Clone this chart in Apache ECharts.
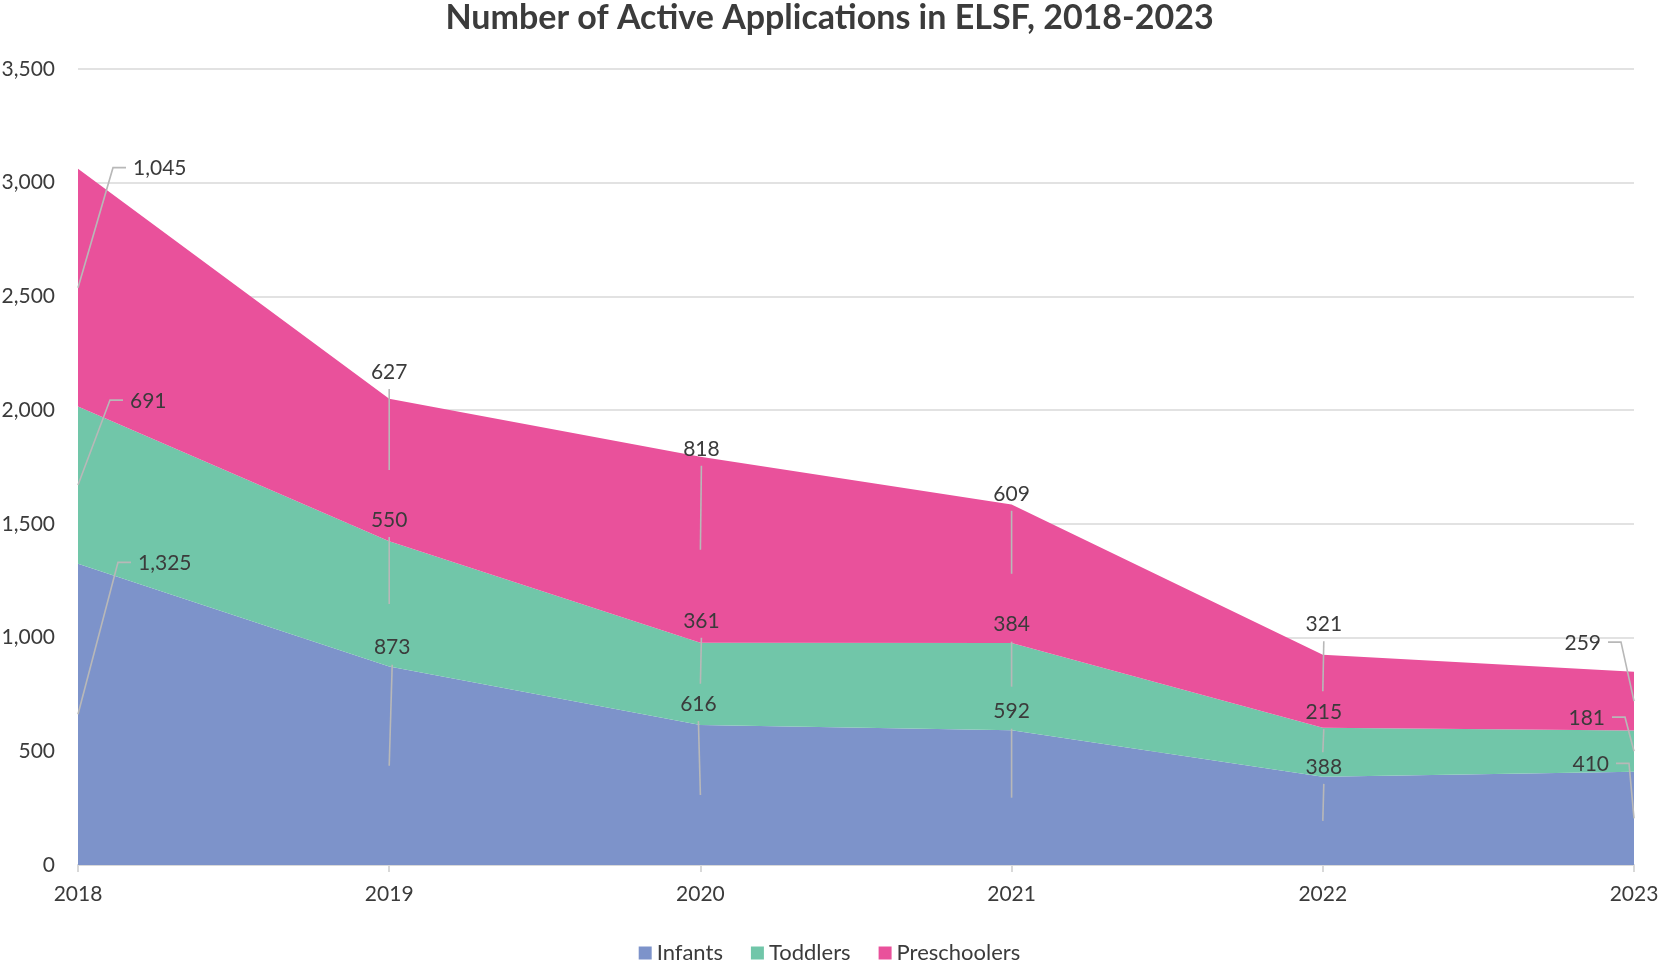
<!DOCTYPE html>
<html>
<head>
<meta charset="utf-8">
<script src="https://cdn.jsdelivr.net/npm/echarts@6/dist/echarts.min.js"></script>
<style>
  html, body { margin: 0; padding: 0; background: #fff; }
  #chart { width: 1659px; height: 962px; }
</style>
</head>
<body>
<div id="chart"></div>
<script>
const FONT = 'Lato, "Open Sans", sans-serif';
const TEXT = '#3B3B3B';
const LEADER = '#B8B8B8';

const years = ['2018', '2019', '2020', '2021', '2022', '2023'];
const infants = [1325, 873, 616, 592, 388, 410];
const toddlers = [691, 550, 361, 384, 215, 181];
const preschoolers = [1045, 627, 818, 609, 321, 259];

const seriesNames = ['Infants', 'Toddlers', 'Preschoolers'];
const seriesValues = [infants, toddlers, preschoolers];
const colors = ['#7D93CA', '#71C6A9', '#E9519B'];

// Excel dragged its labels away from the band middle; [kind, x, y] in px from that point.
// left/right: x is the text's left/right edge, up: x is the text centre; y is the text centre.
const labelPlace = [
  [['left', 60, -151], ['up', 3, -118], ['up', -2, -91], ['up', 0, -86], ['up', 1, -54], ['right', -25, -54]],
  [['left', 52, -84], ['up', 0, -84], ['up', 1, -63], ['up', 0, -62], ['up', 1, -40], ['right', -29, -33]],
  [['left', 55, -119], ['up', 0, -98], ['up', 1, -101], ['up', 0, -80], ['up', 1, -67], ['right', -33, -58]],
];

const fmt = (v) => v.toLocaleString('en-US');

const chart = echarts.init(document.getElementById('chart'), null, { renderer: 'canvas' });

const areaSeries = seriesNames.map((name, i) => ({
  name,
  type: 'line',
  stack: 'total',
  data: seriesValues[i],
  symbol: 'none',
  lineStyle: { width: 0 },
  areaStyle: { color: colors[i], opacity: 1 },
  itemStyle: { color: colors[i] },
  z: 2,
}));

// labels with leader lines, anchored in the middle of each stacked band
const labelSeries = seriesNames.map((name, i) => ({
  name: name + ' labels',
  type: 'custom',
  silent: true,
  z: 5,
  data: seriesValues[i].map((v, j) => {
    let base = 0;
    for (let k = 0; k < i; k++) base += seriesValues[k][j];
    return [j, base + v / 2, v];
  }),
  renderItem: (params, api) => {
    const j = params.dataIndex;
    const [ax, ay] = api.coord([api.value(0), api.value(1)]);
    const [kind, ox, oy] = labelPlace[i][j];
    const tx = ax + ox;
    const ty = ay + oy;
    let points;
    if (kind === 'left') {
      points = [[ax, ay], [tx - 20, ty - 1], [tx - 7, ty - 1]];
    } else if (kind === 'right') {
      points = [[ax, ay], [tx + 20, ty - 1], [tx + 7, ty - 1]];
    } else {
      points = [[ax, ay], [tx, ty + 17]];
    }
    return {
      type: 'group',
      children: [
        {
          type: 'polyline',
          shape: { points },
          style: { stroke: LEADER, lineWidth: 1.6, fill: null },
        },
        {
          type: 'text',
          x: tx,
          y: ty,
          style: {
            text: fmt(api.value(2)),
            align: kind === 'left' ? 'left' : kind === 'right' ? 'right' : 'center',
            verticalAlign: 'middle',
            font: '21px ' + FONT,
            fill: TEXT,
          },
        },
      ],
    };
  },
}));

chart.setOption({
  animation: false,
  backgroundColor: '#fff',
  title: {
    text: 'Number of Active Applications in ELSF, 2018-2023',
    left: 'center',
    top: -4,
    textStyle: { fontFamily: FONT, fontSize: 34, fontWeight: 'bold', color: TEXT },
  },
  legend: {
    data: seriesNames,
    left: 'center',
    top: 937,
    icon: 'rect',
    itemWidth: 13,
    itemHeight: 13,
    itemGap: 28,
    textStyle: { fontFamily: FONT, fontSize: 22, color: TEXT },
  },
  grid: { left: 78, right: 25, top: 69, bottom: 97, outerBoundsMode: 'none' },
  xAxis: {
    type: 'category',
    data: years,
    boundaryGap: false,
    axisLine: { lineStyle: { color: '#D9D9D9', width: 2 } },
    axisTick: { show: true, length: 7, lineStyle: { color: '#D9D9D9', width: 2 } },
    axisLabel: { fontFamily: FONT, fontSize: 21, color: TEXT, margin: 19 },
    splitLine: { show: false },
  },
  yAxis: {
    type: 'value',
    min: 0,
    max: 3500,
    interval: 500,
    axisLine: { show: false },
    axisTick: { show: false },
    axisLabel: { fontFamily: FONT, fontSize: 21, color: TEXT, margin: 23, formatter: fmt },
    splitLine: { lineStyle: { color: '#D9D9D9', width: 1.5 } },
  },
  series: [...areaSeries, ...labelSeries],
});
</script>
</body>
</html>
